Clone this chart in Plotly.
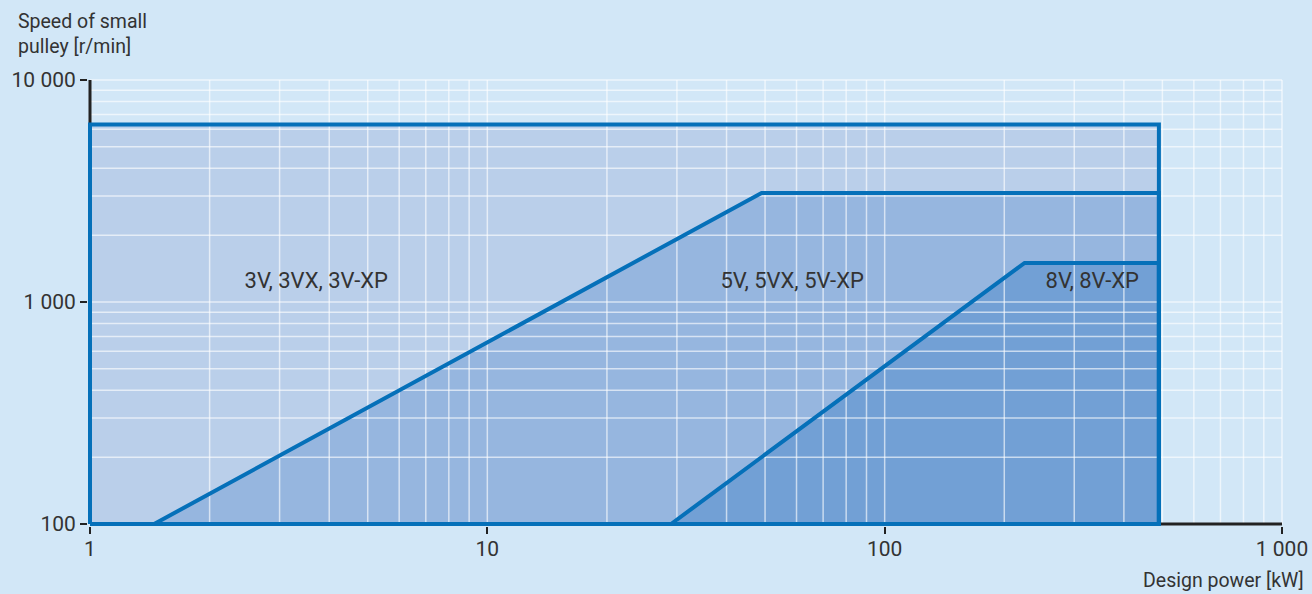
import plotly.graph_objects as go

# ---- data ----
x_3v = [1, 490, 490, 1, 1]
y_3v = [100, 100, 6300, 6300, 100]
x_5v = [1.45, 49, 490, 490, 1.45]
y_5v = [100, 3100, 3100, 100, 100]
x_8v = [29, 225, 490, 490, 29]
y_8v = [100, 1500, 1500, 100, 100]

region_labels = ["3V, 3VX, 3V-XP", "5V, 5VX, 5V-XP", "8V, 8V-XP"]
label_x = [3.71, 58.5, 333]
label_y = [1218, 1218, 1218]

x_tickvals = [1, 10, 100, 1000]
x_ticktext = ["1", "10", "100", "1 000"]
y_tickvals = [100, 1000, 10000]
y_ticktext = ["100", "1 000", "10 000"]

x_grid = [1, 2, 3, 4, 5, 6, 7, 8, 9,
          10, 20, 30, 40, 50, 60, 70, 80, 90,
          100, 200, 300, 400, 500, 600, 700, 800, 900, 1000]
y_grid = [100, 200, 300, 400, 500, 600, 700, 800, 900,
          1000, 2000, 3000, 4000, 5000, 6000, 7000, 8000, 9000, 10000]

x_min, x_max = 1, 1000
y_min, y_max = 100, 10000

# ---- styles ----
BG = "#d2e7f7"
FILL_3V = "#bacfea"
FILL_5V = "#96b6df"
FILL_8V = "#72a0d5"
OUTLINE = "#0570b9"
AXIS = "#222222"
TEXT = "#333333"
FONT = "Roboto"
LBL = 21
REG = 22
TTL = 19.5

fig = go.Figure()

# fills
for xs, ys, col in [(x_3v, y_3v, FILL_3V), (x_5v, y_5v, FILL_5V), (x_8v, y_8v, FILL_8V)]:
    fig.add_trace(go.Scatter(x=xs, y=ys, fill="toself", fillcolor=col,
                             mode="lines", line=dict(width=0, color=col),
                             hoverinfo="skip"))

# gridlines drawn above fills
gx, gy = [], []
for v in x_grid:
    gx += [v, v, None]
    gy += [y_min, y_max, None]
for v in y_grid:
    gx += [x_min, x_max, None]
    gy += [v, v, None]
fig.add_trace(go.Scatter(x=gx, y=gy, mode="lines",
                         line=dict(color="rgba(255,255,255,0.62)", width=1.5),
                         hoverinfo="skip"))

# axis lines
fig.add_trace(go.Scatter(x=[x_min, x_min, None, x_min, x_max],
                         y=[y_max, y_min, None, y_min, y_min],
                         mode="lines", line=dict(color=AXIS, width=3),
                         hoverinfo="skip"))

# outlines
for xs, ys in [(x_3v, y_3v), (x_5v, y_5v), (x_8v, y_8v)]:
    fig.add_trace(go.Scatter(x=xs, y=ys, mode="lines",
                             line=dict(color=OUTLINE, width=4),
                             hoverinfo="skip"))

# region labels
fig.add_trace(go.Scatter(x=label_x, y=label_y, mode="text", text=region_labels,
                         textfont=dict(family=FONT, size=REG, color=TEXT),
                         textposition="middle center", hoverinfo="skip"))

L, R, T, B = 88, 28, 78, 68
W, H = 1312, 594
pw = W - L - R
ph = H - T - B
xpad = 2 / ((pw - 4) / 3)
ypad = 2 / ((ph - 4) / 2)

fig.update_layout(
    width=W, height=H, autosize=False,
    margin=dict(l=L, r=R, t=T, b=B, autoexpand=False),
    paper_bgcolor=BG, plot_bgcolor=BG,
    showlegend=False, hovermode=False,
    font=dict(family=FONT, size=LBL, color=TEXT),
    xaxis=dict(type="log", range=[0 - xpad, 3 + xpad], automargin=False,
               tickvals=x_tickvals, ticktext=x_ticktext,
               showgrid=False, zeroline=False, showline=False,
               ticks="outside", ticklen=7, tickwidth=2, tickcolor=AXIS,
               ticklabelstandoff=-3,
               tickfont=dict(family=FONT, size=LBL, color=TEXT)),
    yaxis=dict(type="log", range=[2 - ypad, 4 + ypad], automargin=False,
               tickvals=y_tickvals, ticktext=y_ticktext,
               showgrid=False, zeroline=False, showline=False,
               ticks="outside", ticklen=7, tickwidth=2, tickcolor=AXIS,
               tickfont=dict(family=FONT, size=LBL, color=TEXT)),
    annotations=[
        dict(text="Speed of small<br>pulley [r/min]", xref="paper", yref="paper",
             x=(16 - L) / pw, y=(H - B - 8) / ph, xanchor="left", yanchor="top",
             align="left", showarrow=False,
             font=dict(family=FONT, size=TTL, color=TEXT)),
        dict(text="Design power [kW]", xref="paper", yref="paper",
             x=(1306 - L) / pw, y=(H - B - 580) / ph, xanchor="right", yanchor="middle",
             showarrow=False, font=dict(family=FONT, size=TTL, color=TEXT)),
    ],
)

fig.write_html(
    "out.html",
    config={"displayModeBar": False, "responsive": False},
    post_script=(
        "document.body.style.margin='0';"
        "document.body.style.padding='0';"
        "document.body.style.overflow='hidden';"
        "document.body.style.background='" + BG + "';"
    ),
)
